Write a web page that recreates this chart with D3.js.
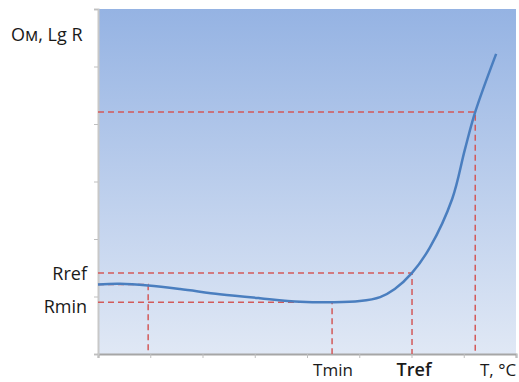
<!DOCTYPE html>
<html>
<head>
<meta charset="utf-8">
<script src="https://cdn.jsdelivr.net/npm/d3@7"></script>
<style>
  body { margin: 0; background: #fff; }
  text { font-family: "Open Sans", sans-serif; fill: #1a1a1a; }
</style>
</head>
<body>
<div id="chart"></div>
<script>
/* CONSTANTS AND GLOBALS */
const width = 519,
  height = 382,
  margin = { top: 9, bottom: 28, left: 98, right: 3 };

// curve: temperature (axis units) vs lg R (axis units)
const tempValues = [0, 0.42, 0.96, 1.57, 2.33, 3.10, 3.87, 4.48, 5.01, 5.40, 5.68, 6.01, 6.35, 6.78, 7.02, 7.22, 7.62];
const resValues  = [1.21, 1.22, 1.19, 1.13, 1.04, 0.97, 0.91, 0.90, 0.92, 0.99, 1.13, 1.41, 1.85, 2.70, 3.55, 4.21, 5.22];

// dashed guide points
const guideT = [0.96, 4.48, 6.01, 7.22];
const guideR = [1.21, 0.90, 1.41, 4.21];

const xTicks = [0, 1, 2, 3, 4, 5, 6, 7, 8];
const yTicks = [0, 1, 2, 3, 4, 5, 6];

const yLabels = ["Rref", "Rmin"];
const xLabels = ["Tmin", "Tref", "T, °C"];

/* SCALES */
const xScale = d3.scaleLinear().domain([0, 8]).range([margin.left, width - margin.right]);
const yScale = d3.scaleLinear().domain([0, 6]).range([height - margin.bottom, margin.top]);

const svg = d3.select("#chart")
  .append("svg")
  .attr("width", width)
  .attr("height", height);

// gradient background
const grad = svg.append("defs").append("linearGradient")
  .attr("id", "bg")
  .attr("x1", 0).attr("y1", 0).attr("x2", 0).attr("y2", 1);
grad.append("stop").attr("offset", "0%").attr("stop-color", "#95b3e3");
grad.append("stop").attr("offset", "100%").attr("stop-color", "#e0e8f5");

svg.append("rect")
  .attr("x", xScale(0))
  .attr("y", yScale(6))
  .attr("width", xScale(8) - xScale(0))
  .attr("height", yScale(0) - yScale(6))
  .attr("fill", "url(#bg)");

// + AXES
const xAxis = d3.axisBottom(xScale).tickValues(xTicks).tickSize(4).tickFormat("");
const yAxis = d3.axisLeft(yScale).tickValues(yTicks).tickSize(4).tickFormat("");

svg.append("g")
  .attr("transform", `translate(0,${yScale(0)})`)
  .call(xAxis)
  .call(g => g.select(".domain").attr("stroke", "#a6a6a6").attr("stroke-width", 2))
  .call(g => g.selectAll(".tick line").attr("stroke", "#bfbfbf"));

svg.append("g")
  .attr("transform", `translate(${xScale(0)},0)`)
  .call(yAxis)
  .call(g => g.select(".domain").attr("stroke", "#c8c8c8").attr("stroke-width", 2))
  .call(g => g.selectAll(".tick line").attr("stroke", "#bfbfbf"));

// + DASHED GUIDES
const guides = guideT.map((t, i) => ({ t: t, r: guideR[i] }));
const guideG = svg.append("g")
  .attr("stroke", "#d35a5a")
  .attr("stroke-width", 1.5)
  .attr("stroke-dasharray", "6,4")
  .attr("fill", "none");

guideG.selectAll("path")
  .data(guides)
  .join("path")
  .attr("d", d => `M${xScale(0)},${yScale(d.r)}H${xScale(d.t)}V${yScale(0)}`);

// + CURVE
const curveData = tempValues.map((t, i) => ({ t: t, r: resValues[i] }));
svg.append("path")
  .datum(curveData)
  .attr("fill", "none")
  .attr("stroke", "#4a7ebf")
  .attr("stroke-width", 2.5)
  .attr("d", d3.line()
    .x(d => xScale(d.t))
    .y(d => yScale(d.r))
    .curve(d3.curveCatmullRom));

// + LABELS
svg.append("text")
  .attr("x", 11)
  .attr("y", 41)
  .attr("font-size", 18)
  .text("Ом, Lg R");

svg.selectAll(".ylab")
  .data(yLabels)
  .join("text")
  .attr("class", "ylab")
  .attr("x", 87)
  .attr("y", (d, i) => i === 0 ? 280 : 313)
  .attr("text-anchor", "end")
  .attr("font-size", 18)
  .text(d => d);

svg.selectAll(".xlab")
  .data(xLabels)
  .join("text")
  .attr("class", "xlab")
  .attr("x", (d, i) => [333, 414, 480][i])
  .attr("y", 376)
  .attr("text-anchor", (d, i) => i === 2 ? "start" : "middle")
  .attr("font-size", (d, i) => i === 1 ? 18 : 17)
  .attr("font-weight", (d, i) => i === 1 ? 600 : 400)
  .text(d => d);
</script>
</body>
</html>
